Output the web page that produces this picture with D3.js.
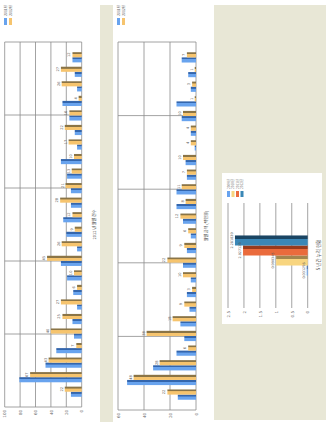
<!DOCTYPE html>
<html>
<head>
<meta charset="utf-8">
<script src="https://cdn.jsdelivr.net/npm/d3@7"></script>
<style>
body{margin:0;background:#fff;}
svg{display:block;font-family:"Noto Sans CJK KR","Noto Sans",sans-serif;}
</style>
</head>
<body>
<div id="page"></div>
<script>
// time slots, left to right (page is shown turned a quarter turn)
var slots = ["0시","1시","2시","3시","4시","5시","6시","7시","8시","9시","10시","11시",
             "12시","13시","14시","15시","16시","17시","18시","19시","20시","21시","22시","23시"];
var seriesNames = ["2011년","2012년"];

// chart 1 : count
var countBlue   = [14, 81, 47, 33, 10, 12, 6, 11, 19, 27, 6, 20, 24, 14, 14, 19, 27, 6, 9, 16, 25, 6, 9, 12];
var countOrange = [22, 67, 43, 7, 40, 25, 27, 6, 10, 45, 26, 9, 12, 28, 21, 13, 10, 17, 22, 16, 4, 26, 27, 12];
var countTicks  = [0, 20, 40, 60, 80, 100];

// chart 2 : amount
var amountBlue   = [14, 53, 33, 15, 9, 12, 5, 7, 4, 10, 7, 4, 10, 15, 15, 7, 8, 1, 4, 11, 15, 4, 6, 11];
var amountOrange = [22, 48, 28, 6, 38, 18, 9, 3, 10, 22, 9, 6, 12, 8, 11, 7, 10, 4, 4, 10, 1, 3, 1, 7];
var amountTicks  = [0, 20, 40, 60];

// chart 3 : totals
var totalNames  = ["2009년","2010년","2011년","2012년"];
var totalValues = [0.031256, 0.990345, 2.027126, 2.281839];
var totalTicks  = [0, 0.5, 1, 1.5, 2, 2.5];

var W = 427, H = 328;
var beige = "#e8e7d6";
var gridCol = "#8c8c8c";

var svg = d3.select("#page").append("svg")
    .attr("width", H).attr("height", W);
var defs = svg.append("defs");

// bar fills: light body, darker edge
var fills = {
  blue:   ["#68a3ee", "#3466ad"],
  orange: ["#f6c46e", "#8a7446"],
  yellow: ["#f8d57f", "#a2864f"],
  red:    ["#ea6b3c", "#993a1c"],
  teal:   ["#3b87b6", "#1a4563"]
};
Object.keys(fills).forEach(function(k){
  var gr = defs.append("linearGradient").attr("id", "g_" + k)
      .attr("x1", 0).attr("x2", 1).attr("y1", 0).attr("y2", 0);
  gr.append("stop").attr("offset", "0").attr("stop-color", fills[k][0]);
  gr.append("stop").attr("offset", "0.6").attr("stop-color", fills[k][0]);
  gr.append("stop").attr("offset", "0.66").attr("stop-color", fills[k][1]);
  gr.append("stop").attr("offset", "1").attr("stop-color", fills[k][1]);
});

var root = svg.append("g").attr("transform", "translate(0," + W + ") rotate(-90)");

// page panels
root.append("rect").attr("x", 5).attr("y", 100).attr("width", 417).attr("height", 13).attr("fill", beige);
root.append("rect").attr("x", 7).attr("y", 214).attr("width", 415).attr("height", 112).attr("fill", beige);
root.append("rect").attr("x", 103).attr("y", 222).attr("width", 151).attr("height", 100).attr("fill", "#fff");

function drawPairChart(g, cfg){
  var x = d3.scaleBand().domain(slots).range([cfg.left, cfg.right]).paddingInner(0.3).paddingOuter(0.7);
  var x1 = d3.scaleBand().domain(seriesNames).range([0, x.bandwidth()]);
  var y = d3.scaleLinear().domain([0, d3.max(cfg.ticks)]).range([cfg.base, cfg.top]);
  var div = d3.scaleLinear().domain([0, 5]).range([cfg.left, cfg.right]);

  g.append("g").selectAll("line").data(cfg.ticks).join("line")
    .attr("x1", cfg.left).attr("x2", cfg.right)
    .attr("y1", function(d){ return y(d); }).attr("y2", function(d){ return y(d); })
    .attr("stroke", gridCol).attr("stroke-width", 0.8);
  g.append("g").selectAll("line").data(d3.range(6)).join("line")
    .attr("x1", div).attr("x2", div)
    .attr("y1", cfg.top).attr("y2", cfg.base)
    .attr("stroke", gridCol).attr("stroke-width", 0.8);

  var ax = g.append("g").attr("transform", "translate(" + (cfg.left - 2) + ",0)")
    .call(d3.axisLeft(y).tickValues(cfg.ticks).tickSize(0).tickPadding(1));
  ax.select(".domain").remove();
  ax.selectAll("text").attr("font-size", 4).attr("fill", "#666").attr("font-family", "DejaVu Sans");

  var rows = slots.map(function(s, i){
    return {slot: s, vals: [{k: seriesNames[0], v: cfg.blue[i], c: "blue"},
                            {k: seriesNames[1], v: cfg.orange[i], c: "orange"}]};
  });
  var grp = g.append("g").selectAll("g").data(rows).join("g")
    .attr("transform", function(d){ return "translate(" + x(d.slot) + ",0)"; });
  grp.selectAll("rect").data(function(d){ return d.vals; }).join("rect")
    .attr("x", function(d){ return x1(d.k); })
    .attr("width", x1.bandwidth())
    .attr("y", function(d){ return y(d.v); })
    .attr("height", function(d){ return y(0) - y(d.v); })
    .attr("fill", function(d){ return "url(#g_" + d.c + ")"; });
  grp.append("text")
    .attr("x", function(d){ return x1(seriesNames[1]) + x1.bandwidth() / 2; })
    .attr("y", function(d){ return y(d.vals[1].v) - 2; })
    .attr("text-anchor", "middle").attr("font-size", 3.6).attr("fill", "#555")
    .attr("font-family", "DejaVu Sans")
    .text(function(d){ return d.vals[1].v; });

  g.append("text").attr("x", (cfg.left + cfg.right) / 2).attr("y", cfg.titleY)
    .attr("text-anchor", "middle").attr("font-size", 4).attr("fill", "#444")
    .text(cfg.title);

  var lg = g.append("g").selectAll("g").data(["blue", "orange"]).join("g")
    .attr("transform", function(d, i){ return "translate(402," + (cfg.legendY + i * 5) + ")"; });
  lg.append("rect").attr("width", 7).attr("height", 3)
    .attr("fill", function(d){ return fills[d][0]; });
  lg.append("text").attr("x", 9).attr("y", 2.8).attr("font-size", 3.5).attr("fill", "#666")
    .text(function(d, i){ return seriesNames[i]; });
}

drawPairChart(root.append("g"), {
  left: 20, right: 385, top: 4.7, base: 81.7, ticks: countTicks,
  blue: countBlue, orange: countOrange, titleY: 96,
  title: "2012 년 월별 건수", legendY: 4
});
drawPairChart(root.append("g"), {
  left: 17, right: 385, top: 118, base: 196, ticks: amountTicks,
  blue: amountBlue, orange: amountOrange, titleY: 208,
  title: "월별 금액 (백만원)", legendY: 117
});

// chart 3
(function(){
  var g = root.append("g");
  var x = d3.scaleBand().domain(["합계"]).range([119, 224]).paddingOuter(0.81);
  var x1 = d3.scaleBand().domain(totalNames).range([0, x.bandwidth()]);
  var y = d3.scaleLinear().domain([0, 2.5]).range([307.7, 228]);
  var cols = ["blue", "yellow", "red", "teal"];

  g.append("g").selectAll("line").data(totalTicks).join("line")
    .attr("x1", 119).attr("x2", 224)
    .attr("y1", function(d){ return y(d); }).attr("y2", function(d){ return y(d); })
    .attr("stroke", gridCol).attr("stroke-width", 0.8);
  var ax = g.append("g").attr("transform", "translate(117,0)")
    .call(d3.axisLeft(y).tickValues(totalTicks).tickSize(0).tickPadding(1).tickFormat(d3.format("~g")));
  ax.select(".domain").remove();
  ax.selectAll("text").attr("font-size", 4).attr("fill", "#666").attr("font-family", "DejaVu Sans");

  var bars = totalNames.map(function(n, i){ return {k: n, v: totalValues[i], c: cols[i]}; });
  var bg = g.append("g").attr("transform", "translate(" + x("합계") + ",0)");
  bg.selectAll("rect").data(bars).join("rect")
    .attr("x", function(d){ return x1(d.k); }).attr("width", x1.bandwidth())
    .attr("y", function(d){ return y(d.v); })
    .attr("height", function(d){ return y(0) - y(d.v); })
    .attr("fill", function(d){ return "url(#g_" + d.c + ")"; });
  bg.selectAll("text").data(bars).join("text")
    .attr("x", function(d){ return x1(d.k) + x1.bandwidth() / 2; })
    .attr("y", function(d){ return y(d.v) - 2; })
    .attr("text-anchor", "middle").attr("font-size", 3.4).attr("fill", "#555")
    .attr("font-family", "DejaVu Sans")
    .text(function(d){ return d.v; });

  g.append("text").attr("x", 172).attr("y", 320).attr("text-anchor", "middle")
    .attr("font-size", 4.5).attr("fill", "#444").text("5 년간 누적 현황");

  var lg = g.append("g").selectAll("g").data(cols).join("g")
    .attr("transform", function(d, i){ return "translate(230," + (227 + i * 4.5) + ")"; });
  lg.append("rect").attr("width", 6).attr("height", 3)
    .attr("fill", function(d){ return fills[d][0]; });
  lg.append("text").attr("x", 8).attr("y", 2.8).attr("font-size", 3.2).attr("fill", "#666")
    .text(function(d, i){ return totalNames[i]; });
})();
</script>
</body>
</html>
